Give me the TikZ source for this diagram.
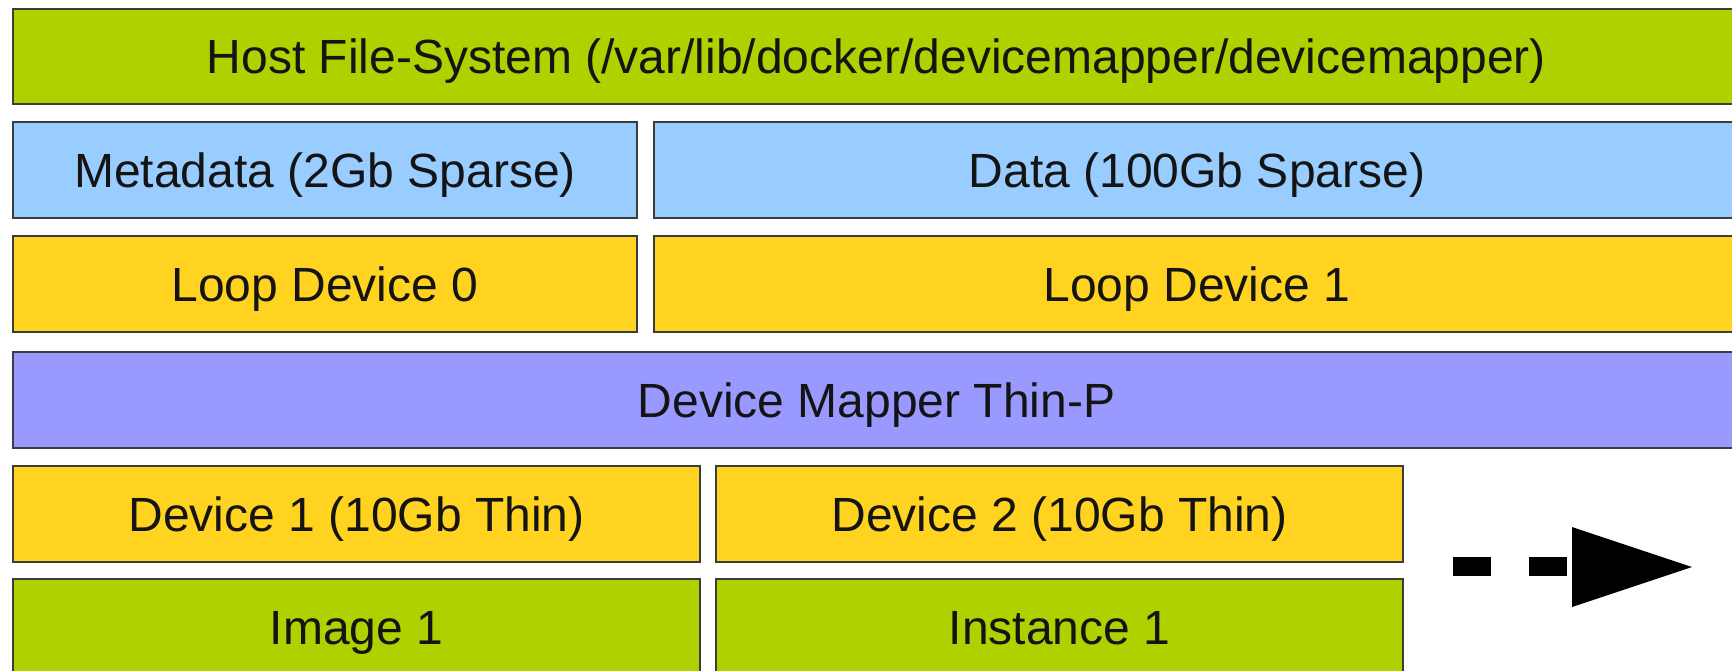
\documentclass[tikz,border=0pt]{standalone}
\usepackage{fontspec}
\setmainfont{Liberation Sans}
\definecolor{hostgreen}{RGB}{176,208,0}
\definecolor{skyblue}{RGB}{153,204,255}
\definecolor{gold}{RGB}{255,211,32}
\definecolor{lavender}{RGB}{153,153,255}
\definecolor{edge}{RGB}{60,60,60}
\definecolor{ink}{RGB}{20,20,20}
\begin{document}
\begin{tikzpicture}[x=0.5pt,y=-0.5pt,
  layer/.style={draw=edge, line width=0.65pt, inner sep=0pt, outer sep=0pt,
    minimum height=48pt, text height=22pt, text depth=5pt,
    font=\fontsize{24}{28}\selectfont, text=ink},
  greenlayer/.style={layer, fill=hostgreen},
  bluelayer/.style={layer, fill=skyblue},
  goldlayer/.style={layer, fill=gold},
  purplelayer/.style={layer, fill=lavender},
  full/.style={minimum width=863.5pt},
  left/.style={minimum width=312pt},
  right/.style={minimum width=543pt},
  half/.style={minimum width=343.5pt}]
\useasboundingbox (0,0) rectangle (1732,670);
\clip (0,0) rectangle (1732,670);

% host file-system
\node[greenlayer, full, minimum height=47.5pt] (host) at (876.5,56.5)
  {Host File-System (/var/lib/docker/devicemapper/devicemapper)};

% sparse files
\node[bluelayer, left]  (meta) at (325,170)  {Metadata (2Gb Sparse)};
\node[bluelayer, right] (data) at (1197,170) {Data (100Gb Sparse)};

% loop devices
\node[goldlayer, left]  (loop0) at (325,284)  {Loop Device 0};
\node[goldlayer, right] (loop1) at (1197,284) {Loop Device 1};

% thin pool
\node[purplelayer, full] (dm) at (876.5,400) {Device Mapper Thin-P};

% thin devices
\node[goldlayer, half] (dev1) at (356.5,514)  {Device 1 (10Gb Thin)};
\node[goldlayer, half] (dev2) at (1059.5,514) {Device 2 (10Gb Thin)};

% filesystems on top
\node[greenlayer, half] (img)  at (356.5,627)  {Image 1};
\node[greenlayer, half] (inst) at (1059.5,627) {Instance 1};

% "more to come" arrow
\fill[black] (1453,557) rectangle (1491,576);
\fill[black] (1529,557) rectangle (1567,576);
\fill[black] (1572,527) -- (1692,567) -- (1572,607) -- cycle;
\end{tikzpicture}
\end{document}
